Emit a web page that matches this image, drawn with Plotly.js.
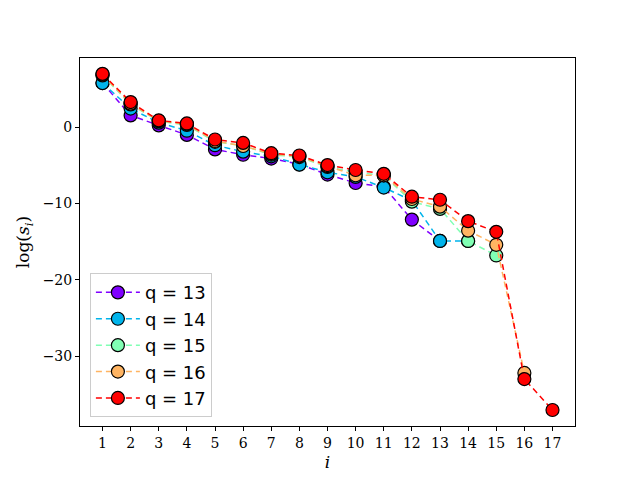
<!DOCTYPE html>
<html><head><meta charset="utf-8">
<script src="https://cdn.plot.ly/plotly-3.0.1.min.js"></script>
<style>html,body{margin:0;padding:0;background:#fff}</style>
</head><body>
<div id="chart" style="width:640px;height:480px"></div>
<script>
const idx = [1,2,3,4,5,6,7,8,9,10,11,12,13,14,15,16,17];
const tickLabels = ["1","2","3","4","5","6","7","8","9","10","11","12","13","14","15","16","17"];
const seriesNames = ["q = 13","q = 14","q = 15","q = 16","q = 17"];
const seriesColors = ["#8000ff","#00b4eb","#80ffb4","#ffb462","#ff0000"];
const q13 = [5.8, 1.55, 0.25, -1.0, -2.9, -3.6, -4.1, -4.85, -6.2, -7.3, -7.8, -12.1, -14.9];
const q14 = [5.8, 2.45, 0.6, -0.45, -2.35, -3.2, -3.8, -4.9, -5.9, -6.5, -7.9, -9.6, -14.9, -14.9];
const q15 = [6.8, 3.0, 0.8, 0.3, -1.9, -2.4, -3.6, -3.9, -5.2, -5.9, -6.3, -9.75, -10.7, -14.9, -16.8];
const q16 = [6.9, 3.1, 0.85, 0.4, -1.8, -2.45, -3.5, -3.8, -5.1, -6.3, -6.3, -9.4, -10.4, -13.55, -15.4, -32.2];
const q17 = [7.0, 3.3, 0.9, 0.5, -1.6, -2.05, -3.4, -3.7, -4.95, -5.6, -6.1, -9.1, -9.5, -12.3, -13.7, -33.0, -37.05];
const allSeries = [q13, q14, q15, q16, q17];

const traces = allSeries.map((ys, k) => ({
  x: idx.slice(0, ys.length),
  y: ys,
  name: seriesNames[k],
  type: 'scatter',
  mode: 'lines+markers',
  line: {color: seriesColors[k], width: 1.5, dash: '6px,4px'},
  marker: {color: seriesColors[k], size: 13, line: {color: '#000', width: 1.2}}
}));

const serif = '"DejaVu Serif", "Liberation Serif", serif';
const layout = {
  width: 640, height: 480,
  margin: {l: 80, r: 65, t: 58, b: 54},
  paper_bgcolor: '#fff', plot_bgcolor: '#fff',
  showlegend: true,
  legend: {
    x: 0.02, y: 0.024, xanchor: 'left', yanchor: 'bottom',
    bgcolor: 'rgba(255,255,255,0.8)', bordercolor: '#cccccc', borderwidth: 1,
    font: {family: '"DejaVu Sans", sans-serif', size: 18, color: '#000'},
    itemwidth: 44
  },
  xaxis: {
    range: [0.2, 17.8],
    tickmode: 'array', tickvals: idx, ticktext: tickLabels,
    ticks: 'outside', ticklen: 4, tickcolor: '#000', tickwidth: 1,
    showline: true, linecolor: '#000', linewidth: 1, mirror: true,
    showgrid: false, zeroline: false,
    tickfont: {family: serif, size: 14, color: '#000'},
    title: {text: '<i>i</i>', font: {family: serif, size: 17, color: '#000'}, standoff: 6}
  },
  yaxis: {
    range: [-39.15, 9.08],
    tickvals: [0, -10, -20, -30],
    ticks: 'outside', ticklen: 4, tickcolor: '#000', tickwidth: 1,
    showline: true, linecolor: '#000', linewidth: 1, mirror: true,
    showgrid: false, zeroline: false,
    tickfont: {family: serif, size: 14, color: '#000'},
    title: {text: 'log(<i>s</i><sub><i>i</i></sub>)', font: {family: serif, size: 17, color: '#000'}, standoff: 8}
  }
};
Plotly.newPlot('chart', traces, layout, {displayModeBar: false, staticPlot: true});
</script>
</body></html>
